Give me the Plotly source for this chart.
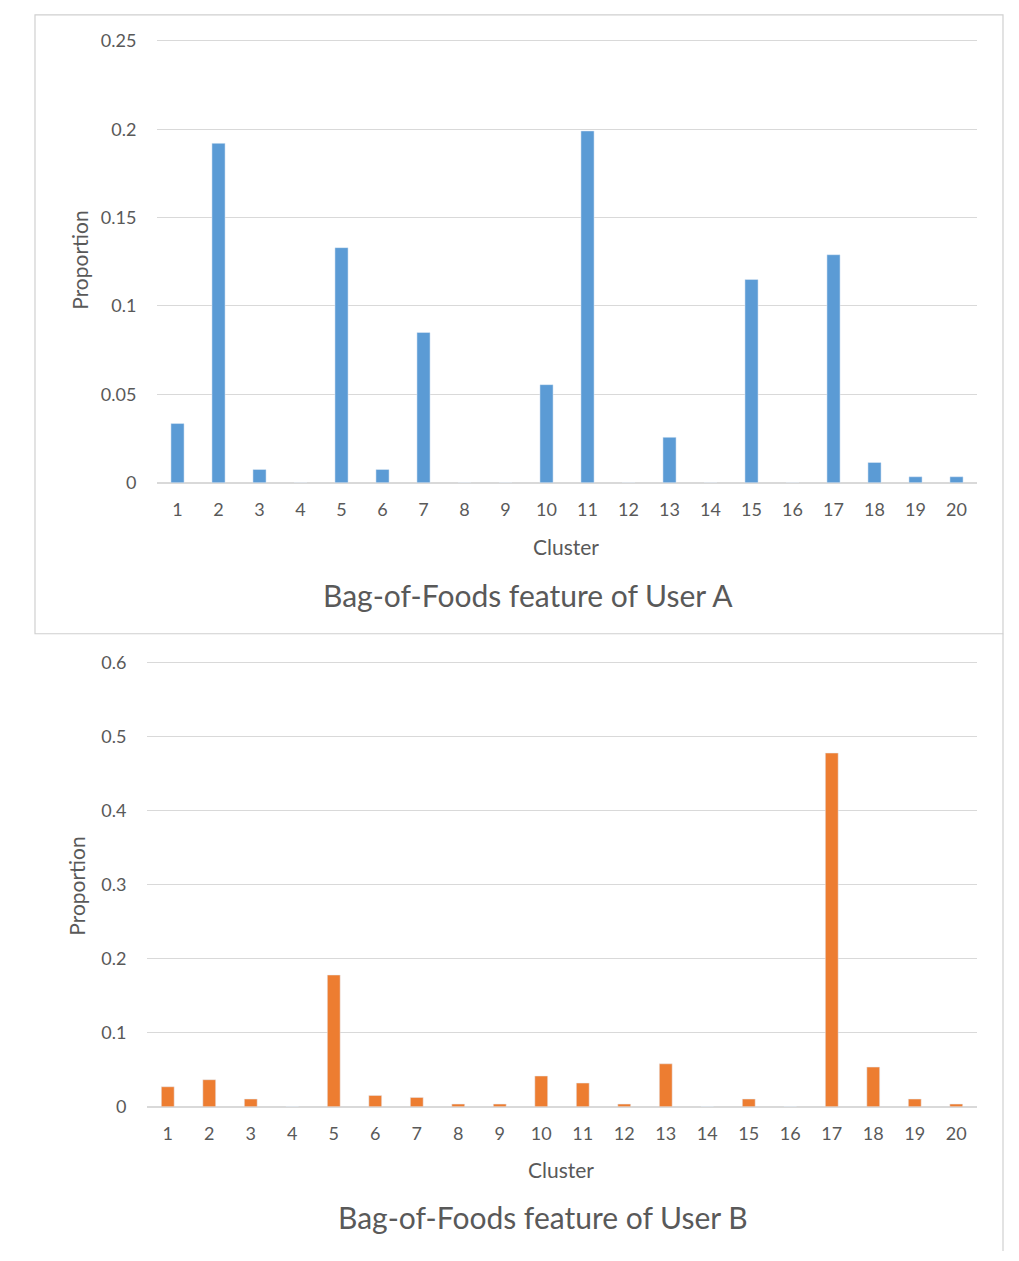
import plotly.graph_objects as go

# Cluster ids and per-cluster proportions for the two users
clusters = list(range(1, 21))
user_a = [0.0335, 0.192, 0.0075, 0.0, 0.133, 0.0075, 0.085, 0.0, 0.0, 0.0555,
          0.199, 0.0, 0.0257, 0.0, 0.115, 0.0, 0.129, 0.0115, 0.0034, 0.0034]
user_b = [0.027, 0.0365, 0.0104, 0.0, 0.178, 0.0153, 0.0126, 0.0036, 0.0036, 0.0415,
          0.032, 0.0036, 0.058, 0.0, 0.0104, 0.0, 0.478, 0.0536, 0.0104, 0.0036]
tick_labels = [str(c) for c in clusters]
y_ticks_a = [0, 0.05, 0.1, 0.15, 0.2, 0.25]
y_ticks_b = [0, 0.1, 0.2, 0.3, 0.4, 0.5, 0.6]
y_labels_a = ["0", "0.05", "0.1", "0.15", "0.2", "0.25"]
y_labels_b = ["0", "0.1", "0.2", "0.3", "0.4", "0.5", "0.6"]

W, H = 1019, 1261
FONT = "Lato"
TICK_COLOR = "#595959"
GRID = "#d9d9d9"

# the page shows the figure shifted down a little and slightly squeezed
# vertically; layout positions below are given in screen pixels
Y_OFFSET = 8.2
Y_SCALE = 0.985


def px(x):
    return x / W


def py(y):
    return max(0.0, 1 - ((y - Y_OFFSET) / Y_SCALE) / H)


fig = go.Figure()
fig.add_trace(go.Bar(x=clusters, y=user_a, width=0.32, marker_color="#5b9bd5",
                     xaxis="x", yaxis="y", showlegend=False))
fig.add_trace(go.Bar(x=clusters, y=user_b, width=0.31, marker_color="#ed7d31",
                     xaxis="x2", yaxis="y2", showlegend=False))

tickfont = dict(family=FONT, size=18, color=TICK_COLOR)
xcommon = dict(range=[0.5, 20.5], tickmode="array", tickvals=clusters, ticktext=tick_labels,
               showgrid=False, zeroline=False, showline=False,
               ticks="outside", tickcolor="rgba(0,0,0,0)", ticklen=11,
               tickfont=tickfont, fixedrange=True)
ycommon = dict(showgrid=True, gridcolor=GRID, gridwidth=1, zeroline=True, zerolinecolor=GRID,
               zerolinewidth=1.5, showline=False, tickfont=tickfont, fixedrange=True,
               ticks="outside", tickcolor="rgba(0,0,0,0)", ticklen=16)

# small headroom above the top tick so its gridline stays inside the plot area
pad_a = 3 / 1768
pad_b = 3 / 740

fig.update_layout(
    width=W, height=H,
    margin=dict(l=0, r=0, t=0, b=0),
    paper_bgcolor="white", plot_bgcolor="white",
    xaxis=dict(domain=[px(157), px(977)], anchor="y", **xcommon),
    yaxis=dict(domain=[py(482), py(37)], anchor="x", range=[0, 0.25 + pad_a],
               tickvals=y_ticks_a, ticktext=y_labels_a, **ycommon),
    xaxis2=dict(domain=[px(147), px(977)], anchor="y2", **xcommon),
    yaxis2=dict(domain=[py(1106), py(659)], anchor="x2", range=[0, 0.6 + pad_b],
                tickvals=y_ticks_b, ticktext=y_labels_b, **ycommon),
    font=dict(family=FONT),
)

# Panel frame around the first chart and the right edge below it
fig.add_shape(type="rect", xref="paper", yref="paper",
              x0=px(35), x1=px(1003), y0=py(633), y1=py(14),
              line=dict(color="#d0d0d0", width=1.2), layer="below")
fig.add_shape(type="line", xref="paper", yref="paper",
              x0=px(1003), x1=px(1003), y0=py(633), y1=0,
              line=dict(color="#d0d0d0", width=1.2), layer="below")

label_font = dict(family=FONT, size=21, color=TICK_COLOR)
title_font = dict(family=FONT, size=30, color="#595959")
texts = [
    ("Cluster", 566, 546, label_font, 0),
    ("Cluster", 561, 1169, label_font, 0),
    ("Proportion", 80, 260, label_font, -90),
    ("Proportion", 77, 886, label_font, -90),
    ("Bag-of-Foods feature of User A", 528, 594, title_font, 0),
    ("Bag-of-Foods feature of User B", 543, 1216, title_font, 0),
]
for text, x, y, f, ang in texts:
    fig.add_annotation(text=text, x=px(x), y=py(y), xref="paper", yref="paper",
                       showarrow=False, font=f, textangle=ang,
                       xanchor="center", yanchor="middle")

fig.write_html("out.html")
